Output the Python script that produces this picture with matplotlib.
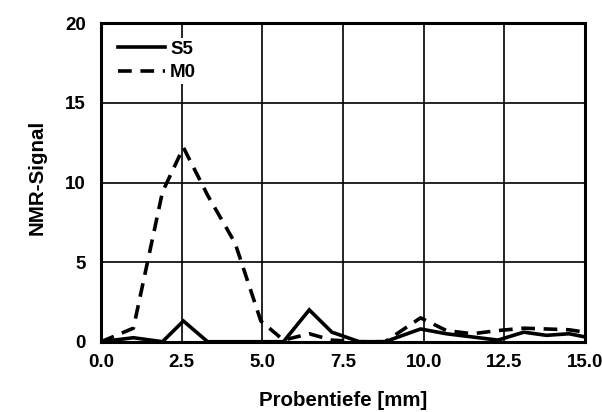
import matplotlib
matplotlib.use("Agg")
import matplotlib.pyplot as plt

depth = [0, 1.0, 1.9, 2.55, 3.3, 4.15, 4.95, 5.65, 6.45, 7.15, 8.0, 8.8, 9.9, 10.7, 11.5, 12.3, 13.1, 13.8, 14.5, 15.0]
m0 = [0, 0.85, 9.4, 12.2, 9.2, 6.2, 1.3, 0.1, 0.5, 0.1, 0, 0, 1.5, 0.7, 0.5, 0.7, 0.85, 0.8, 0.75, 0.6]
s5 = [0, 0.25, 0, 1.3, 0, 0, 0, 0, 2.0, 0.6, 0, 0, 0.8, 0.5, 0.3, 0.1, 0.6, 0.4, 0.5, 0.3]
xticks = [0, 2.5, 5.0, 7.5, 10.0, 12.5, 15.0]
xticklabels = ["0.0", "2.5", "5.0", "7.5", "10.0", "12.5", "15.0"]
yticks = [0, 5, 10, 15, 20]

plt.rcParams['font.family'] = ['Liberation Sans', 'DejaVu Sans']
plt.rcParams['font.weight'] = 'bold'

fig = plt.figure(figsize=(6.02, 4.12), dpi=100)
ax = fig.add_axes([0.168, 0.1706, 0.804, 0.7728])

ax.plot(depth, s5, color='black', lw=2.6, solid_joinstyle='miter', label='S5')
ax.plot(depth, m0, color='black', lw=2.6, dashes=(3.8, 2.4), label='M0')

ax.set_xlim(0, 15)
ax.set_ylim(0, 20)
ax.set_xticks(xticks)
ax.set_xticklabels(xticklabels)
ax.set_yticks(yticks)
ax.grid(True, color='black', lw=1.2)
ax.set_axisbelow(True)
for s in ax.spines.values():
    s.set_linewidth(2.2)
ax.tick_params(length=0, labelsize=13.5)
ax.tick_params(axis='x', pad=9)
ax.tick_params(axis='y', pad=11)
for lab in ax.get_xticklabels() + ax.get_yticklabels():
    lab.set_fontweight('bold')

ax.set_xlabel('Probentiefe [mm]', fontsize=14.8, fontweight='bold')
ax.set_ylabel('NMR-Signal', fontsize=14.8, fontweight='bold')
ax.xaxis.set_label_coords(0.5, -0.155)
ax.yaxis.set_label_coords(-0.113, 0.515)

leg = ax.legend(loc='upper left', frameon=True, fontsize=13.5, handlelength=2.5,
                handletextpad=0.25, borderaxespad=0.0, borderpad=0.15, labelspacing=0.35,
                bbox_to_anchor=(0.03, 0.955), fancybox=False)
leg.get_frame().set_facecolor('white')
leg.get_frame().set_edgecolor('none')
leg.get_frame().set_alpha(1.0)
for t in leg.get_texts():
    t.set_fontweight('bold')

fig.savefig('out.png', dpi=100)
